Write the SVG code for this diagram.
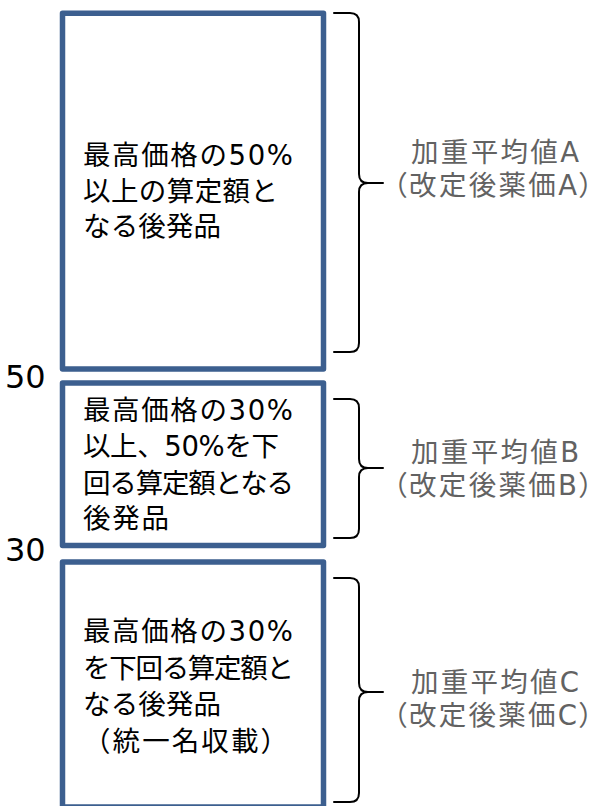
<svg xmlns="http://www.w3.org/2000/svg" width="595" height="806" viewBox="0 0 595 806">
  <style>
    .box { fill: #ffffff; stroke: #3C5F8F; stroke-width: 5.5; stroke-linejoin: round; }
    .brace { fill: none; stroke: #000000; stroke-width: 2; stroke-linejoin: round; stroke-linecap: round; }
    .t { font-family: "DejaVu Sans", "Noto Sans CJK JP", sans-serif; font-size: 27.5px; fill: #000000; }
    .lbl { font-family: "DejaVu Sans", "Noto Sans CJK JP", sans-serif; font-size: 27.5px; fill: #626262; text-anchor: middle; }
    .palt { font-feature-settings: "palt"; }
    .num { font-family: "DejaVu Sans", "Noto Sans", sans-serif; font-size: 32px; fill: #000000; }
  </style>
  <rect width="595" height="806" fill="#ffffff"/>

  <g id="node-a">
    <rect class="box" x="62.5" y="13.3" width="261" height="355.7"/>
    <text class="t" x="83" y="165" textLength="210">最高価格の50%</text>
    <text class="t" x="83" y="201" textLength="195">以上の算定額と</text>
    <text class="t" x="83" y="236" textLength="138">なる後発品</text>
  </g>

  <g id="node-b">
    <rect class="box" x="62.5" y="383" width="261" height="162.5"/>
    <text class="t" x="83" y="420" textLength="210">最高価格の30%</text>
    <text class="t" x="83" y="456" textLength="196">以上、50%を下</text>
    <text class="t" x="83" y="493" textLength="211">回る算定額となる</text>
    <text class="t" x="83" y="528" textLength="86">後発品</text>
  </g>

  <g id="node-c">
    <rect class="box" x="62.5" y="562" width="261" height="245"/>
    <text class="t" x="83" y="641" textLength="210">最高価格の30%</text>
    <text class="t" x="83" y="678" textLength="211">を下回る算定額と</text>
    <text class="t" x="83" y="714" textLength="138">なる後発品</text>
    <text class="t" x="83" y="751" textLength="205">（統一名収載）</text>
  </g>

  <g id="threshold-labels">
    <text class="num" x="5" y="388">50</text>
    <text class="num" x="5" y="561">30</text>
  </g>

  <g id="connectors">
    <path class="brace" d="M334,13 H350 Q359,13 359,22 V174 Q359,183 368,183 H383 M368,183 Q359,183 359,192 V343 Q359,352 350,352 H334"/>
    <path class="brace" d="M334,399 H350 Q359,399 359,408 V459 Q359,468 368,468 H383 M368,468 Q359,468 359,477 V529 Q359,538 350,538 H334"/>
    <path class="brace" d="M334,578 H350 Q359,578 359,587 V683 Q359,692 368,692 H383 M368,692 Q359,692 359,701 V793 Q359,802 350,802 H334"/>
  </g>

  <g id="label-a">
    <text class="lbl" x="495" y="162" textLength="168">加重平均値A</text>
    <text class="lbl palt" x="493" y="195" textLength="200">（改定後薬価A）</text>
  </g>
  <g id="label-b">
    <text class="lbl" x="495" y="462" textLength="168">加重平均値B</text>
    <text class="lbl palt" x="493" y="495" textLength="200">（改定後薬価B）</text>
  </g>
  <g id="label-c">
    <text class="lbl" x="495" y="692" textLength="168">加重平均値C</text>
    <text class="lbl palt" x="493" y="725" textLength="200">（改定後薬価C）</text>
  </g>
</svg>
